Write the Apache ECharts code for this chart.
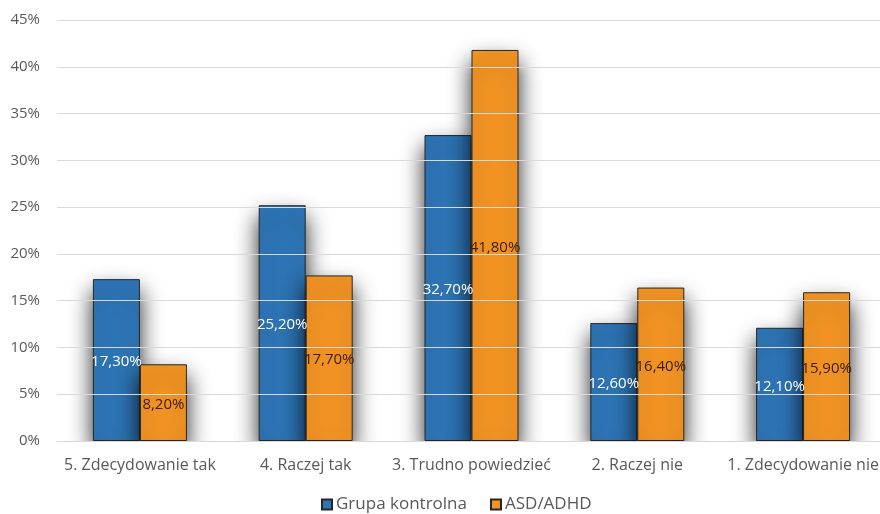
<!DOCTYPE html>
<html>
<head>
<meta charset="utf-8">
<script src="https://cdn.jsdelivr.net/npm/echarts@6/dist/echarts.min.js"></script>
<style>
  html, body { margin: 0; padding: 0; background: #fff; }
  #chart { width: 880px; height: 514px; }
</style>
</head>
<body>
<div id="chart"></div>
<script>
// Answer categories (x axis)
const categories = [
  '5. Zdecydowanie tak',
  '4. Raczej tak',
  '3. Trudno powiedzieć',
  '2. Raczej nie',
  '1. Zdecydowanie nie'
];
// Share of answers, percent
const controlGroup = [17.3, 25.2, 32.7, 12.6, 12.1];
const asdAdhd = [8.2, 17.7, 41.8, 16.4, 15.9];
const seriesNames = ['Grupa kontrolna', 'ASD/ADHD'];
// Value axis
const yMin = 0, yMax = 45, yStep = 5;

const FONT = '"Open Sans", "Noto Sans", sans-serif';
const pct = v => v.toFixed(2).replace('.', ',') + '%';

const chart = echarts.init(document.getElementById('chart'), null, { renderer: 'canvas' });

function barSeries(name, data, color, labelColor) {
  return {
    name: name,
    type: 'bar',
    data: data,
    barWidth: 47,
    barGap: '0%',
    itemStyle: {
      color: color,
      borderColor: '#262626',
      borderWidth: 1,
      shadowColor: 'rgba(0,0,0,0.85)',
      shadowBlur: 22,
      shadowOffsetX: 0,
      shadowOffsetY: 12
    },
    label: {
      show: true,
      position: 'inside',
      offset: [0, 2],
      color: labelColor,
      fontFamily: FONT,
      fontSize: 15,
      formatter: p => pct(p.value)
    }
  };
}

chart.setOption({
  animation: false,
  backgroundColor: '#ffffff',
  grid: {
    left: 57, width: 829, top: 20, bottom: 73,
    containLabel: false,
    outerBoundsMode: 'none'
  },
  legend: {
    top: 496,
    left: 321,
    padding: 0,
    itemWidth: 10,
    itemHeight: 10,
    itemGap: 23,
    icon: 'rect',
    textStyle: { fontFamily: FONT, fontSize: 17, color: '#595959', padding: [0, 0, 0, -1] },
    data: seriesNames,
    z: 10
  },
  xAxis: {
    type: 'category',
    data: categories,
    z: 10,
    axisLine: { show: true, lineStyle: { color: '#d9d9d9', width: 1 } },
    axisTick: { show: false },
    axisLabel: { fontFamily: FONT, fontSize: 16, color: '#595959', margin: 16, interval: 0 }
  },
  yAxis: {
    type: 'value',
    min: yMin,
    max: yMax,
    interval: yStep,
    z: 10,
    axisLine: { show: false },
    axisTick: { show: false },
    splitLine: { lineStyle: { color: '#d9d9d9', width: 1 } },
    axisLabel: {
      fontFamily: FONT, fontSize: 15, color: '#595959', margin: 17,
      formatter: v => v + '%'
    }
  },
  graphic: [{
    type: 'rect',
    z: 5,
    shape: { x: 0, y: 441.5, width: 880, height: 80 },
    style: { fill: '#ffffff' }
  }],
  series: [
    barSeries(seriesNames[0], controlGroup, '#2E75B6', '#ffffff'),
    barSeries(seriesNames[1], asdAdhd, '#F39424', '#3b1d00')
  ]
});
</script>
</body>
</html>
